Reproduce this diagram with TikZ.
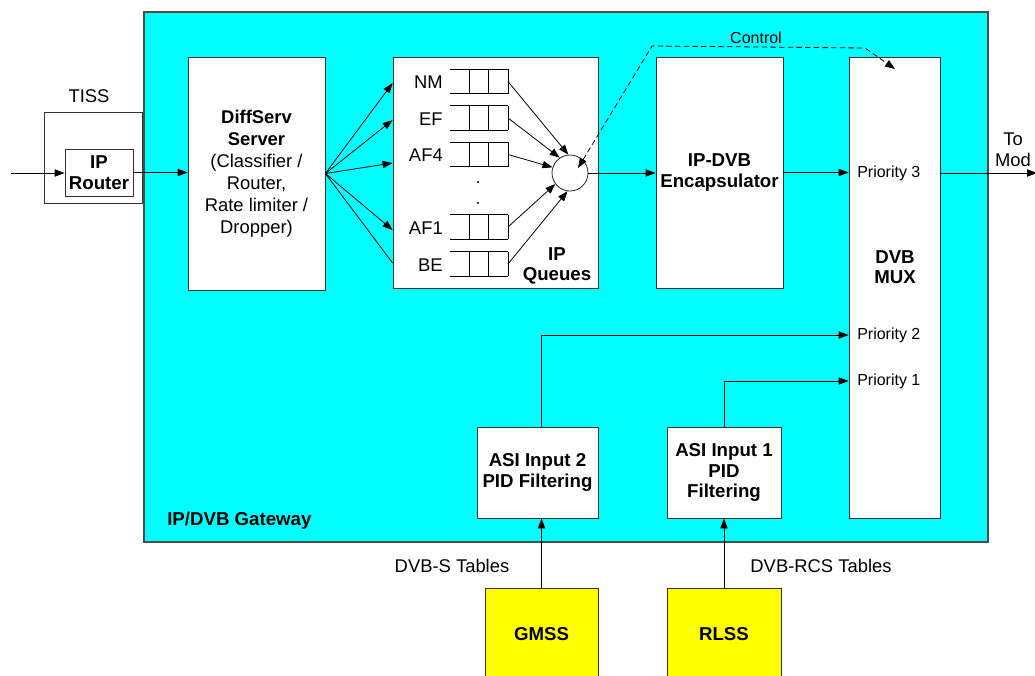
\documentclass[tikz,border=0pt]{standalone}
\usepackage{fontspec}
\setmainfont{Liberation Sans}
\usetikzlibrary{arrows.meta,calc}
\definecolor{gwcyan}{RGB}{0,255,255}
\definecolor{srcyellow}{RGB}{255,255,0}
\begin{document}
\begin{tikzpicture}[x=0.75pt,y=-0.75pt,
  every node/.style={font=\fontsize{13.8}{15.5}\selectfont},
  box/.style={draw=black!80, fill=white, line width=0.6pt, inner sep=0pt, align=center},
  arr/.style={-{Triangle[length=7.5pt,width=5.5pt]}, line width=0.6pt},
  ln/.style={line width=0.6pt},
  small/.style={font=\fontsize{12}{14}\selectfont},
  bold/.style={font=\fontsize{14}{15.5}\selectfont\bfseries},
  lbl/.style={inner sep=0pt, align=center},
]
\useasboundingbox (0,0) rectangle (1035,675);

% gateway
\node[draw=black!70, fill=gwcyan, line width=0.8pt, minimum width=633pt, minimum height=397.5pt, inner sep=0pt] (gw) at (566,277) {};
\node[bold, lbl, anchor=west] (gwlbl) at (167,521) {IP/DVB Gateway};

% TISS
\node[box, minimum width=73.5pt, minimum height=68.25pt] (tiss) at (93,157.5) {};
\node[lbl] (tisslbl) at (89,96) {TISS};
\node[box, bold, minimum width=51pt, minimum height=35.25pt] (router) at (99,172.5) {IP\\Router};
\coordinate (in) at (11,173);
\draw[arr] (in) -- (in -| router.west);

% DiffServ
\node[box, minimum width=102.75pt, minimum height=174.75pt, font=\fontsize{13.8}{16.5}\selectfont] (diff) at (256.5,173.5)
  {\textbf{DiffServ}\\\textbf{Server}\\(Classifier /\\Router,\\Rate limiter /\\Dropper)};
\draw[arr] (router.east) -- (router.east -| diff.west);

% IP queues
\node[box, minimum width=153.75pt, minimum height=173.25pt] (qbox) at (495.5,172.5) {};
\node[draw=black!85, fill=white, circle, minimum size=27pt, inner sep=0pt, line width=0.6pt] (mix) at (570,173) {};
\foreach \n/\y/\l/\a in {1/81.5/NM/95, 2/118/EF/124, 3/154.5/AF4/162, 4/227/AF1/217, 5/264/BE/262}{
  \draw[ln] (450,\y-12.25) -- (508,\y-12.25) (450,\y+12.25) -- (508,\y+12.25);
  \draw[ln] (469,\y-12.25) -- (469,\y+12.25) (488,\y-12.25) -- (488,\y+12.25) (508,\y-12.25) -- (508,\y+12.25);
  \coordinate (q\n) at (508,\y);
  \node[lbl, anchor=east] (ql\n) at (443,\y+1) {\l};
  \draw[arr] (q\n) -- (mix.\a);
}
\fill (478,182) circle (0.9pt);
\fill (478,203) circle (0.9pt);
\node[bold, lbl] (qlbl) at (557,266) {IP\\Queues};
\foreach \y in {83,120,163,230}{
  \draw[arr] (diff.east) -- (qbox.west |- 0,\y);
}
\draw[ln] (diff.east) -- (qbox.west |- 0,263);

% encapsulator
\node[box, bold, minimum width=95.25pt, minimum height=173.25pt] (enc) at (719.5,172.5) {IP-DVB\\Encapsulator};
\draw[arr] (mix.east) -- (mix.east -| enc.west);

% MUX
\node[box, minimum width=68.25pt, minimum height=345.75pt] (mux) at (894.5,287.5) {};
\node[bold, lbl] (muxlbl) at (895,267) {DVB\\MUX};
\node[small, lbl, anchor=west] (pr3) at (857,173) {Priority 3};
\node[small, lbl, anchor=west] (pr2) at (857,335) {Priority 2};
\node[small, lbl, anchor=west] (pr1) at (857,381) {Priority 1};
\draw[arr] (enc.east) -- (enc.east -| mux.west);
\coordinate (out) at (1037,173);
\draw[arr] (mux.east |- out) -- (out);
\node[lbl] (tomod) at (1013,150) {To\\Mod};

% control
\coordinate (c0) at (578,168);
\coordinate (c1) at (652,46);
\coordinate (c2) at (865,48);
\coordinate (c3) at (895,69);
\draw[ln, dash pattern=on 4pt off 2.5pt, {Triangle[length=7.5pt,width=5.5pt]}-{Triangle[length=7.5pt,width=5.5pt]}] (c0) -- (c1) -- (c2) -- (c3);
\node[small, lbl] (ctl) at (756,38) {Control};

% ASI inputs
\node[box, bold, minimum width=90.75pt, minimum height=68.25pt] (asi2) at (537.5,472.5) {ASI Input 2\\PID Filtering};
\node[box, bold, minimum width=85.5pt, minimum height=68.25pt] (asi1) at (724,472.5) {ASI Input 1\\PID\\Filtering};

% sources
\node[box, bold, fill=srcyellow, minimum width=84.75pt, minimum height=69pt] (gmss) at (541.5,634) {GMSS};
\node[box, bold, fill=srcyellow, minimum width=85.5pt, minimum height=69pt] (rlss) at (724,634) {RLSS};
\draw[arr] (asi2.north -| gmss.north) |- (mux.west |- 0,335);
\draw[arr] (asi1.north) |- (mux.west |- 0,381);
\draw[arr] (gmss.north) -- (gmss.north |- asi2.south);
\draw[arr] (rlss.north) -- (asi1.south);
\node[lbl] (dvbs) at (452,566) {DVB-S Tables};
\node[lbl] (dvbrcs) at (821,566) {DVB-RCS Tables};
\end{tikzpicture}
\end{document}
